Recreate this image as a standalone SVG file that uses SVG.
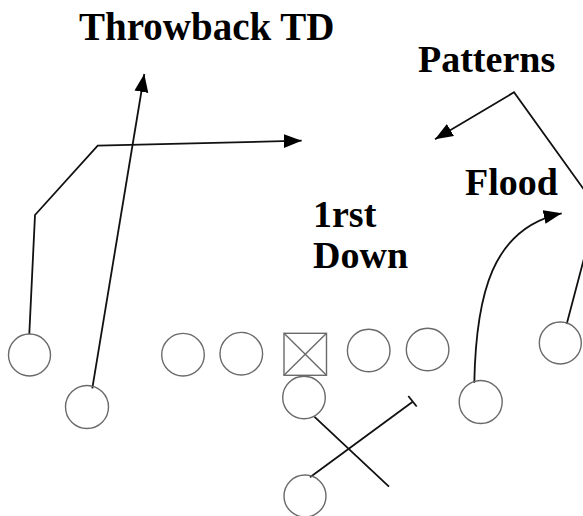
<svg xmlns="http://www.w3.org/2000/svg" width="583" height="516" viewBox="0 0 583 516">
<style>
.lbl{font-family:"Liberation Serif","Times New Roman",serif;font-weight:bold;font-size:38px;fill:#000}
.pl{fill:none;stroke:#6a6a6a;stroke-width:1.4}
.rt{fill:none;stroke:#111;stroke-width:1.8}
</style>
<defs>
<marker id="ah" markerUnits="userSpaceOnUse" markerWidth="20" markerHeight="16" refX="18" refY="7" orient="auto">
<path d="M0,0 L18,7 L0,14 Z" fill="#000"/>
</marker>
</defs>
<rect width="583" height="516" fill="#fff"/>
<g id="labels">
<text class="lbl" x="79" y="40" style="font-size:39px">Throwback TD</text>
<text class="lbl" x="418" y="72">Patterns</text>
<text class="lbl" x="465" y="195">Flood</text>
<text class="lbl" x="313" y="227">1rst</text>
<text class="lbl" x="313" y="268">Down</text>
</g>
<g id="connectors">
<polyline class="rt" points="29.3,334 35,215 97.7,145.7 301.7,140.7" marker-end="url(#ah)"/>
<line class="rt" x1="92.3" y1="388.3" x2="144.3" y2="74" marker-end="url(#ah)"/>
<polyline class="rt" points="566.7,324 597.3,208.2 514,92.3 435,139.3" marker-end="url(#ah)"/>
<path class="rt" d="M474.3,382.7 C476,295 492,228 561.7,213.3" marker-end="url(#ah)"/>
<line class="rt" x1="310" y1="477.3" x2="412.7" y2="401.7"/>
<line class="rt" x1="408.3" y1="396" x2="416.7" y2="406.5"/>
<line class="rt" x1="314.3" y1="416.7" x2="389" y2="486.7"/>
</g>
<g id="wr-left"><circle class="pl" cx="29.5" cy="355" r="21"/></g>
<g id="slot-left"><circle class="pl" cx="87" cy="407" r="21.5"/></g>
<g id="lt"><circle class="pl" cx="183" cy="354.7" r="21.3"/></g>
<g id="lg"><circle class="pl" cx="241.3" cy="353.7" r="21.3"/></g>
<g id="center">
<rect class="pl" x="284" y="333.3" width="42.5" height="42"/>
<line class="pl" x1="284" y1="333.3" x2="326.5" y2="375.3"/>
<line class="pl" x1="326.5" y1="333.3" x2="284" y2="375.3"/>
</g>
<g id="rg"><circle class="pl" cx="368.7" cy="350.5" r="21.3"/></g>
<g id="rt"><circle class="pl" cx="427.6" cy="349.5" r="21.3"/></g>
<g id="slot-right"><circle class="pl" cx="480.7" cy="402" r="21.5"/></g>
<g id="wr-right"><circle class="pl" cx="560.3" cy="343" r="21"/></g>
<g id="qb"><circle class="pl" cx="304" cy="397.5" r="21.3"/></g>
<g id="rb"><circle class="pl" cx="305" cy="496" r="21"/></g>
</svg>
